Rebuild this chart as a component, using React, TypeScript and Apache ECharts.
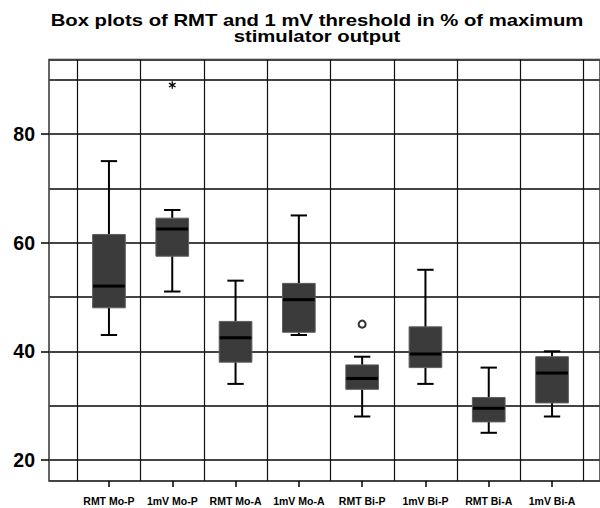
import React, { useEffect, useRef } from 'react';
import * as echarts from 'echarts';

const titleLines = ['Box plots of RMT and 1 mV threshold in % of maximum', 'stimulator output'];
const categories = ['RMT Mo-P', '1mV Mo-P', 'RMT Mo-A', '1mV Mo-A', 'RMT Bi-P', '1mV Bi-P', 'RMT Bi-A', '1mV Bi-A'];
// [lower whisker, Q1, median, Q3, upper whisker]
const boxValues = [
  [43, 48, 52, 61.5, 75],
  [51, 57.5, 62.5, 64.5, 66],
  [34, 38, 42.5, 45.5, 53],
  [43, 43.5, 49.5, 52.5, 65],
  [28, 33, 35, 37.5, 39],
  [34, 37, 39.5, 44.5, 55],
  [25, 27, 29.5, 31.5, 37],
  [28, 30.5, 36, 39, 40],
];
const outlierCircles = [[4, 45]];
const outlierStars = [[1, 89]];
const yTickLabels = [20, 40, 60, 80];
const yMin = 16.13;
const yMax = 93.7;

const FONT = "'Liberation Sans', Arial, Helvetica, sans-serif";

export default function App() {
  const ref = useRef<HTMLDivElement>(null);
  useEffect(() => {
    document.body.style.margin = '0';
    if (!ref.current) return;
    const chart = echarts.init(ref.current, null, { renderer: 'svg' });
    const option: any = {
      animation: false,
      backgroundColor: '#fff',
      graphic: [
        {
          type: 'text',
          x: 317,
          y: 11.8,
          scaleX: 1.2,
          z: 10,
          style: {
            text: titleLines.join('\n'),
            textAlign: 'center',
            textVerticalAlign: 'top',
            fontSize: 16.9,
            fontWeight: 'bold',
            fontFamily: FONT,
            lineHeight: 16,
            fill: '#000',
          },
        },
      ],
      grid: [
        { left: 49, right: -5, top: 59.5, bottom: 27, show: true, borderColor: '#333', borderWidth: 1.5, backgroundColor: '#fff' },
        { left: 77.3, right: 16.3, top: 59.5, bottom: 27 },
      ],
      xAxis: [
        { type: 'value', gridIndex: 0, min: 0, max: 1, show: false },
        {
          type: 'category',
          gridIndex: 1,
          data: categories,
          boundaryGap: true,
          axisLine: { show: false },
          axisTick: { show: true, alignWithLabel: true, length: 6, lineStyle: { color: '#000', width: 1.5 } },
          axisLabel: { fontSize: 10.5, fontWeight: 'bold', color: '#000', margin: 14, fontFamily: FONT, interval: 0 },
          splitLine: { show: true, interval: 0, lineStyle: { color: '#111', width: 1.2 } },
        },
      ],
      yAxis: [
        {
          type: 'value',
          gridIndex: 0,
          position: 'left',
          min: yMin,
          max: yMax,
          splitNumber: 8,
          axisLine: { show: false },
          axisTick: { show: false },
          axisLabel: { show: false },
          splitLine: { show: true, lineStyle: { color: '#444', width: 1.8 } },
        },
        {
          type: 'value',
          gridIndex: 0,
          position: 'left',
          offset: 0,
          min: yMin,
          max: yMax,
          axisLine: { show: false },
          axisTick: { show: true, customValues: yTickLabels, length: 8, lineStyle: { color: '#000', width: 1.5 } },
          axisLabel: {
            customValues: yTickLabels,
            fontSize: 19.5,
            fontWeight: 'bold',
            color: '#000',
            margin: 14,
            fontFamily: FONT,
            padding: [5, 0, 0, 0],
          },
          splitLine: { show: false },
        },
        { type: 'value', gridIndex: 1, min: yMin, max: yMax, show: false },
      ],
      series: [
        {
          type: 'custom',
          xAxisIndex: 1,
          yAxisIndex: 2,
          z: 5,
          data: boxValues.map((v, i) => [i, ...v]),
          encode: { x: 0, y: [1, 2, 3, 4, 5] },
          renderItem: (params: any, api: any) => {
            const i = api.value(0);
            const lo = api.coord([i, api.value(1)]);
            const q1 = api.coord([i, api.value(2)]);
            const med = api.coord([i, api.value(3)]);
            const q3 = api.coord([i, api.value(4)]);
            const hi = api.coord([i, api.value(5)]);
            const x = lo[0];
            const band = api.size([1, 0])[0];
            const bw = band * 0.516;
            const cw = bw * 0.5;
            const ls = { stroke: '#000', lineWidth: 2 };
            return {
              type: 'group',
              children: [
                { type: 'line', shape: { x1: x, y1: lo[1], x2: x, y2: q1[1] }, style: ls },
                { type: 'line', shape: { x1: x, y1: q3[1], x2: x, y2: hi[1] }, style: ls },
                { type: 'line', shape: { x1: x - cw / 2, y1: lo[1], x2: x + cw / 2, y2: lo[1] }, style: ls },
                { type: 'line', shape: { x1: x - cw / 2, y1: hi[1], x2: x + cw / 2, y2: hi[1] }, style: ls },
                {
                  type: 'rect',
                  shape: { x: x - bw / 2, y: q3[1], width: bw, height: q1[1] - q3[1] },
                  style: { fill: '#3b3b3b', stroke: '#5e5e5e', lineWidth: 1 },
                },
                { type: 'line', shape: { x1: x - bw / 2 + 0.5, y1: med[1], x2: x + bw / 2 - 0.5, y2: med[1] }, style: { stroke: '#000', lineWidth: 3 } },
              ],
            };
          },
        },
        {
          type: 'scatter',
          xAxisIndex: 1,
          yAxisIndex: 2,
          z: 6,
          data: outlierCircles,
          symbol: 'emptyCircle',
          symbolSize: 7,
          itemStyle: { color: '#000', borderColor: '#000', borderWidth: 1.6 },
        },
        {
          type: 'custom',
          xAxisIndex: 1,
          yAxisIndex: 2,
          z: 6,
          data: outlierStars,
          renderItem: (params: any, api: any) => {
            const c = api.coord([api.value(0), api.value(1)]);
            const r = 3.8;
            const st = { stroke: '#000', lineWidth: 1.3 };
            const children = [90, 30, 150].map((a) => {
              const rad = (a * Math.PI) / 180;
              const dx = Math.cos(rad) * r;
              const dy = Math.sin(rad) * r;
              return { type: 'line', shape: { x1: c[0] - dx, y1: c[1] - dy, x2: c[0] + dx, y2: c[1] + dy }, style: st };
            });
            return { type: 'group', children };
          },
        },
      ],
    };
    chart.setOption(option);
    return () => chart.dispose();
  }, []);
  return <div ref={ref} style={{ width: 600, height: 508 }} />;
}
